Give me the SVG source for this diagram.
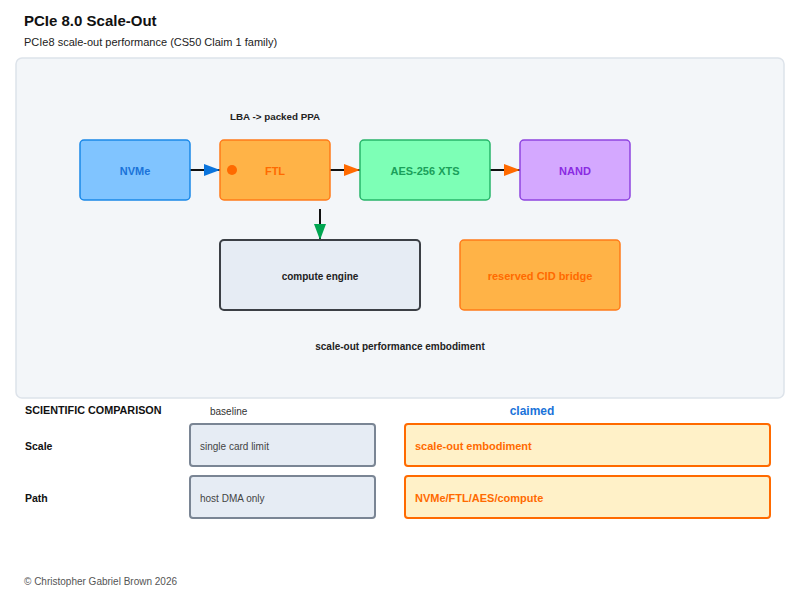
<svg xmlns="http://www.w3.org/2000/svg" width="800" height="600" viewBox="0 0 800 600">
<style>
text{font-family:"Liberation Sans",Arial,sans-serif}
.b{font-weight:bold}
.node text{font-weight:bold;font-size:11px;text-anchor:middle}
.edge{stroke:#111;stroke-width:2;fill:none}
.base rect{fill:#e6ecf4;stroke:#7a8594;stroke-width:2}
.base text{font-size:10px;fill:#444}
.claim rect{fill:#fff1c8;stroke:#ff6a00;stroke-width:2}
.claim text{font-size:11px;fill:#ff6a00;font-weight:bold}
</style>
<defs>
<marker id="ab" viewBox="0 0 16 12" refX="16" refY="6" markerWidth="16" markerHeight="12" markerUnits="userSpaceOnUse" orient="auto"><path d="M0,0L16,6L0,12z" fill="#0a74dd"/></marker>
<marker id="ao" viewBox="0 0 16 12" refX="16" refY="6" markerWidth="16" markerHeight="12" markerUnits="userSpaceOnUse" orient="auto"><path d="M0,0L16,6L0,12z" fill="#ff6a00"/></marker>
<marker id="ag" viewBox="0 0 16 12" refX="16" refY="6" markerWidth="16" markerHeight="12" markerUnits="userSpaceOnUse" orient="auto"><path d="M0,0L16,6L0,12z" fill="#00a651"/></marker>
</defs>
<rect width="800" height="600" fill="#fff"/>
<text x="24" y="26" class="b" font-size="15" fill="#111">PCIe 8.0 Scale-Out</text>
<text x="24" y="46" font-size="11" fill="#222">PCIe8 scale-out performance (CS50 Claim 1 family)</text>
<rect x="16" y="58" width="768" height="340" rx="6" fill="#f3f6f9" stroke="#dde3ea" stroke-width="1.5"/>
<text x="230" y="120" class="b" font-size="9.8" fill="#222">LBA -&gt; packed PPA</text>
<g id="edges">
<line class="edge" x1="190" y1="170" x2="220" y2="170" marker-end="url(#ab)"/>
<line class="edge" x1="330" y1="170" x2="360" y2="170" marker-end="url(#ao)"/>
<line class="edge" x1="490" y1="170" x2="520" y2="170" marker-end="url(#ao)"/>
<line class="edge" x1="320" y1="209" x2="320" y2="240" marker-end="url(#ag)"/>
</g>
<g id="nvme" class="node"><rect x="80" y="140" width="110" height="60" rx="4" fill="#80c4ff" stroke="#1a88e8" stroke-width="1.5"/><text x="135" y="175" fill="#1a73d9">NVMe</text></g>
<g id="ftl" class="node"><rect x="220" y="140" width="110" height="60" rx="4" fill="#ffb347" stroke="#ff7b1a" stroke-width="1.5"/><circle cx="232" cy="170" r="5" fill="#ff6a00"/><text x="275" y="175" fill="#ff6a00">FTL</text></g>
<g id="aes" class="node"><rect x="360" y="140" width="130" height="60" rx="4" fill="#7dffb6" stroke="#27b56a" stroke-width="1.5"/><text x="425" y="175" fill="#1aa05a">AES-256 XTS</text></g>
<g id="nand" class="node"><rect x="520" y="140" width="110" height="60" rx="4" fill="#d4a8ff" stroke="#8e44e0" stroke-width="1.5"/><text x="575" y="175" fill="#8a2be2">NAND</text></g>
<g id="compute" class="node"><rect x="220" y="240" width="200" height="70" rx="4" fill="#e6ecf4" stroke="#3b3f45" stroke-width="2"/><text x="320" y="280" fill="#222" style="font-size:10px">compute engine</text></g>
<g id="cid" class="node"><rect x="460" y="240" width="160" height="70" rx="4" fill="#ffb347" stroke="#ff7b1a" stroke-width="1.5"/><text x="540" y="280" fill="#ff6a00">reserved CID bridge</text></g>
<text x="400" y="350" class="b" font-size="10" fill="#222" text-anchor="middle">scale-out performance embodiment</text>
<text x="25" y="414" class="b" font-size="10.8" fill="#111">SCIENTIFIC COMPARISON</text>
<text x="210" y="415" font-size="10" fill="#333">baseline</text>
<text x="532" y="415" class="b" font-size="12" fill="#1a73d9" text-anchor="middle">claimed</text>
<text x="25" y="450" class="b" font-size="10.5" fill="#111">Scale</text>
<text x="25" y="502" class="b" font-size="10.5" fill="#111">Path</text>
<g id="base-scale" class="base"><rect x="190" y="424" width="185" height="42" rx="3"/><text x="200" y="450">single card limit</text></g>
<g id="base-path" class="base"><rect x="190" y="476" width="185" height="42" rx="3"/><text x="200" y="502">host DMA only</text></g>
<g id="claim-scale" class="claim"><rect x="405" y="424" width="365" height="42" rx="3"/><text x="415" y="450">scale-out embodiment</text></g>
<g id="claim-path" class="claim"><rect x="405" y="476" width="365" height="42" rx="3"/><text x="415" y="502">NVMe/FTL/AES/compute</text></g>
<text x="24" y="585" font-size="10" fill="#555">© Christopher Gabriel Brown 2026</text>
</svg>
